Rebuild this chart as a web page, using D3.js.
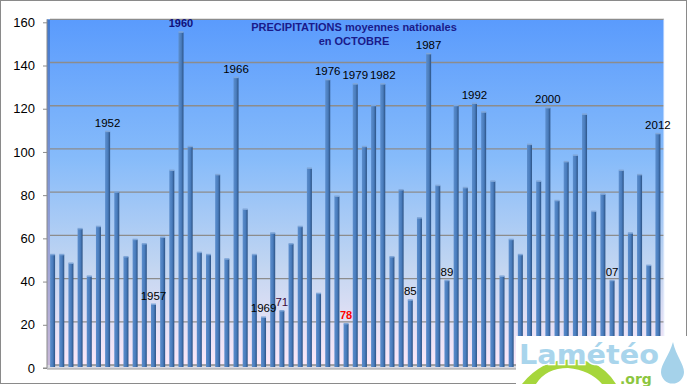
<!DOCTYPE html>
<html>
<head>
<meta charset="utf-8">
<script src="https://cdn.jsdelivr.net/npm/d3@7"></script>
<style>
  body { margin: 0; background: #fff; }
  svg { display: block; font-family: "Liberation Sans", Arial, sans-serif; }
</style>
</head>
<body>
<div id="chart"></div>
<script>
// October national mean precipitation, 1946 - 2012
var years = d3.range(1946, 2013);
var rain = [51, 51, 47, 63, 41, 64, 108, 80, 50, 58, 56, 28, 59, 90, 154, 101, 52, 51, 88, 49,
            133, 72, 51, 22, 61, 25, 56, 64, 91, 33, 132, 78, 19, 130, 101, 120, 130, 50, 81, 30,
            68, 144, 83, 39, 120, 82, 121, 117, 85, 41, 58, 51, 102, 85, 119, 76, 94, 97, 116, 71,
            79, 39, 90, 61, 88, 46, 107];
var yTicks = [0, 20, 40, 60, 80, 100, 120, 140, 160];
var labelYears = [1952, 1957, 1960, 1966, 1969, 1971, 1976, 1978, 1979, 1982, 1985, 1987, 1989, 1992, 2000, 2007, 2012];
var labelTexts = ["1952", "1957", "1960", "1966", "1969", "71", "1976", "78", "1979", "1982", "85", "1987", "89", "1992", "2000", "07", "2012"];
var titleLines = ["PRECIPITATIONS moyennes nationales", "en OCTOBRE"];

var width = 688, height = 386;
var margin = {top: 19.3, right: 24, bottom: 21, left: 48};

var data = years.map(function(y, i) { return {year: y, value: rain[i]}; });

var svg = d3.select("#chart").append("svg")
  .attr("width", width)
  .attr("height", height);

var defs = svg.append("defs");
var bg = defs.append("linearGradient").attr("id", "bg")
  .attr("x1", 0).attr("y1", 0).attr("x2", 0).attr("y2", 1);
bg.append("stop").attr("offset", "0%").attr("stop-color", "#5a9bfd");
bg.append("stop").attr("offset", "40%").attr("stop-color", "#86bbfa");
bg.append("stop").attr("offset", "72%").attr("stop-color", "#c3d6f1");
bg.append("stop").attr("offset", "100%").attr("stop-color", "#fbe8f8");

var barGrad = defs.append("linearGradient").attr("id", "barGrad")
  .attr("x1", 0).attr("y1", 0).attr("x2", 1).attr("y2", 0);
barGrad.append("stop").attr("offset", "0%").attr("stop-color", "#5b8dcc");
barGrad.append("stop").attr("offset", "55%").attr("stop-color", "#4a7dbd");
barGrad.append("stop").attr("offset", "75%").attr("stop-color", "#3c6aa5");
barGrad.append("stop").attr("offset", "100%").attr("stop-color", "#2c5283");

var wallGrad = defs.append("linearGradient").attr("id", "wallGrad")
  .attr("x1", 0).attr("y1", 0).attr("x2", 0).attr("y2", 1);
wallGrad.append("stop").attr("offset", "0%").attr("stop-color", "#3f78cf");
wallGrad.append("stop").attr("offset", "100%").attr("stop-color", "#c9b9d9");

// outer frame
svg.append("rect")
  .attr("x", 0.5).attr("y", 0.5)
  .attr("width", 686).attr("height", 383)
  .attr("fill", "#fff")
  .attr("stroke", "#8a8a8a");

var x = d3.scalePoint()
  .domain(years)
  .range([margin.left, width - margin.right - 1.5])
  .padding(0.5);

var y = d3.scaleLinear()
  .domain([0, 160])
  .range([365, margin.top]);

var plotRight = width - margin.right;

// back wall
svg.append("rect")
  .attr("x", margin.left + 2).attr("y", y(160))
  .attr("width", plotRight - margin.left - 2)
  .attr("height", y(0) - y(160))
  .attr("fill", "url(#bg)");

// side wall
svg.append("rect")
  .attr("x", margin.left - 1).attr("y", y(160))
  .attr("width", 3).attr("height", y(0) - y(160) + 3)
  .attr("fill", "url(#wallGrad)");

// floor
svg.append("rect")
  .attr("x", margin.left - 1).attr("y", y(0))
  .attr("width", plotRight - margin.left + 1).attr("height", 4)
  .attr("fill", "#d9d9e2");
svg.append("line")
  .attr("x1", margin.left - 1).attr("x2", plotRight)
  .attr("y1", y(0) + 4).attr("y2", y(0) + 4)
  .attr("stroke", "#9a9a9a");

// gridlines
svg.append("g").selectAll("line")
  .data(yTicks)
  .join("line")
  .attr("x1", margin.left + 2).attr("x2", plotRight)
  .attr("y1", function(d) { return y(d); })
  .attr("y2", function(d) { return y(d); })
  .attr("stroke", "#8c8c8c")
  .attr("stroke-width", 1.3);

svg.append("line")
  .attr("x1", plotRight).attr("x2", plotRight)
  .attr("y1", y(160)).attr("y2", y(0))
  .attr("stroke", "#eef4ff");

// y axis
var yAxis = g => g
  .attr("transform", `translate(${margin.left - 1},0)`)
  .call(d3.axisLeft(y).tickValues(yTicks).tickSize(4).tickPadding(8))
  .call(g => g.select(".domain").attr("stroke", "#8a8a8a").attr("d", `M-4,${y(0) + 3}H0V${y(160)}`))
  .call(g => g.selectAll(".tick line").attr("stroke", "#8a8a8a").attr("transform", "translate(0,3)"))
  .call(g => g.selectAll(".tick text")
    .attr("dy", "0.32em")
    .attr("y", 3)
    .attr("fill", "#000")
    .attr("font-size", 13)
    .attr("font-family", "Liberation Sans, Arial, sans-serif"));

svg.append("g").call(yAxis);

// bars
var bw = 5;
var bars = svg.append("g").selectAll("g")
  .data(data)
  .join("g");

bars.append("rect")
  .attr("x", function(d) { return x(d.year) - bw / 2; })
  .attr("y", function(d) { return y(d.value); })
  .attr("width", bw)
  .attr("height", function(d) { return y(0) + 2 - y(d.value); })
  .attr("fill", "url(#barGrad)");

bars.append("rect")
  .attr("x", function(d) { return x(d.year) - bw / 2; })
  .attr("y", function(d) { return y(d.value) - 1; })
  .attr("width", bw)
  .attr("height", 1.5)
  .attr("fill", "#7fa6d8");

// year labels
var labelData = labelYears.map(function(yr, i) {
  return {year: yr, text: labelTexts[i], value: rain[years.indexOf(yr)]};
});

svg.append("g").selectAll("text")
  .data(labelData)
  .join("text")
  .attr("x", function(d) { return x(d.year); })
  .attr("y", function(d) { return y(d.value) - 5; })
  .attr("text-anchor", "middle")
  .attr("font-size", function(d) { return d.year == 1960 || d.year == 1978 ? 11 : 11.5; })
  .attr("font-weight", function(d) { return d.year == 1960 || d.year == 1978 ? "bold" : "normal"; })
  .attr("fill", function(d) {
    if (d.year == 1960) return "#10107a";
    if (d.year == 1978) return "#ff0000";
    if (d.year == 1971) return "#3a0a3a";
    return "#000";
  })
  .text(function(d) { return d.text; });

// title
svg.append("g").selectAll("text")
  .data(titleLines)
  .join("text")
  .attr("x", 354)
  .attr("y", function(d, i) { return 30.5 + i * 14; })
  .attr("text-anchor", "middle")
  .attr("font-size", 11)
  .attr("font-weight", "bold")
  .attr("fill", "#1a1a8a")
  .text(function(d) { return d; });

// logo
var logo = svg.append("g");
logo.append("rect")
  .attr("x", 516).attr("y", 336)
  .attr("width", 171).attr("height", 48)
  .attr("fill", "#fff");
logo.append("path")
  .attr("d", "M522,384 Q548,352 590,362 Q606,368 616,384 L602,384 Q590,370 568,368 Q546,368 536,384 Z")
  .attr("fill", "#a6d63c");
logo.append("text")
  .attr("x", 519).attr("y", 364)
  .attr("font-size", 27)
  .attr("font-weight", "bold")
  .attr("font-family", "DejaVu Sans, sans-serif")
  .attr("fill", "#a9d5ec")
  .attr("stroke", "#fff")
  .attr("stroke-width", 2.5)
  .attr("paint-order", "stroke")
  .attr("textLength", 140)
  .attr("lengthAdjust", "spacingAndGlyphs")
  .text("Lamétéo");
logo.append("text")
  .attr("x", 620).attr("y", 384)
  .attr("font-size", 14)
  .attr("font-weight", "bold")
  .attr("font-family", "DejaVu Sans, sans-serif")
  .attr("fill", "#8cc63f")
  .attr("stroke", "#fff")
  .attr("stroke-width", 2)
  .attr("paint-order", "stroke")
  .text(".org");
logo.append("path")
  .attr("d", "M673,342 C669,356 661,364 661,372 A11,11 0 0 0 684,372 C684,364 676,356 673,342 Z")
  .attr("fill", "#a5d2ea");
</script>
</body>
</html>
